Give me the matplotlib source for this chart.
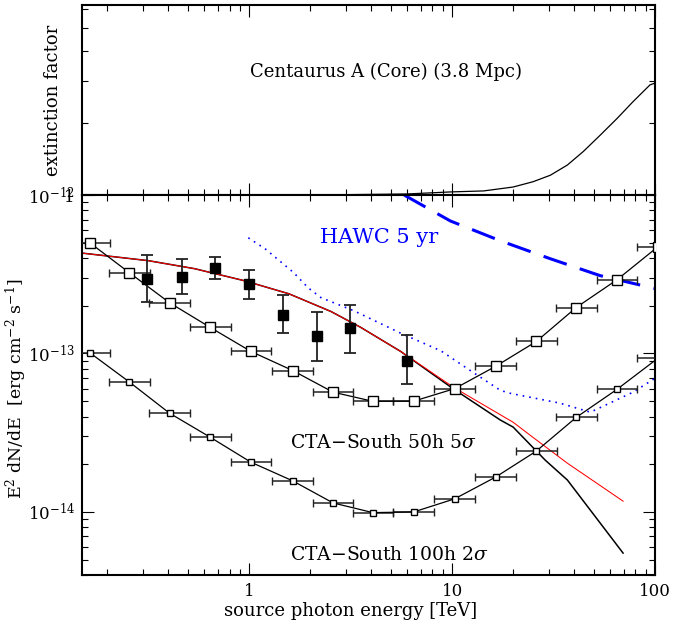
import matplotlib
matplotlib.use("Agg")
import numpy as np
import matplotlib.pyplot as plt
from matplotlib import ticker

plt.rcParams["font.family"] = ["DejaVu Serif"]
plt.rcParams["mathtext.fontset"] = "dejavuserif"

# extinction factor (top panel)
ext_energy = [0.15, 1.0, 3.0, 6.0, 9.8, 14.3, 20, 25.1, 30.5, 37, 44.3, 53.7,
              65, 78, 94.5, 100]
ext_factor = [1.0, 1.0, 1.003, 1.01, 1.03, 1.04, 1.08, 1.137, 1.21, 1.335, 1.52,
              1.78, 2.09, 2.46, 2.89, 2.94]

# CTA-South sensitivities (bin centres, TeV)
cta_energy = [0.164, 0.257, 0.405, 0.643, 1.02, 1.64, 2.59, 4.07, 6.47,
              10.3, 16.4, 26.0, 40.9, 65.0, 103]
cta50_flux = [4.99e-13, 3.23e-13, 2.09e-13, 1.46e-13, 1.03e-13, 7.8e-14, 5.7e-14,
              4.99e-14, 5.0e-14, 6.0e-14, 8.3e-14, 1.19e-13, 1.95e-13, 2.92e-13, 4.7e-13]
cta100_flux = [1.01e-13, 6.6e-14, 4.2e-14, 2.96e-14, 2.06e-14, 1.57e-14, 1.14e-14,
               9.9e-15, 1.0e-14, 1.21e-14, 1.66e-14, 2.42e-14, 3.95e-14, 5.94e-14, 9.3e-14]
BIN_HALF_DEX = 0.1

# measured points
hess_energy = [0.315, 0.469, 0.68, 1.0, 1.47, 2.16, 3.13, 5.97]
hess_flux = [2.96e-13, 3.05e-13, 3.47e-13, 2.75e-13, 1.76e-13, 1.28e-13, 1.44e-13, 9.0e-14]
hess_hi = [4.2e-13, 3.96e-13, 4.07e-13, 3.37e-13, 2.35e-13, 1.84e-13, 2.03e-13, 1.30e-13]
hess_lo = [2.12e-13, 2.38e-13, 2.96e-13, 2.22e-13, 1.35e-13, 8.9e-14, 1.01e-13, 6.4e-14]

# model, intrinsic (red) and with extinction (black)
model_energy = [0.15, 0.319, 0.537, 0.945, 1.57, 2.53, 3.55, 5.58, 10.2, 20, 25, 37, 69.6]
model_flux = [4.3e-13, 3.85e-13, 3.43e-13, 2.88e-13, 2.38e-13, 1.84e-13, 1.46e-13,
              1.03e-13, 6.1e-14, 3.68e-14, 2.96e-14, 2.03e-14, 1.17e-14]
absorbed_energy = [0.15, 0.319, 0.537, 0.945, 1.57, 2.53, 3.55, 5.58, 10.2,
                   17.3, 20, 28.8, 37, 69.6]
absorbed_flux = [4.3e-13, 3.85e-13, 3.43e-13, 2.88e-13, 2.38e-13, 1.84e-13, 1.46e-13,
                 1.03e-13, 5.95e-14, 3.8e-14, 3.43e-14, 2.12e-14, 1.59e-14, 5.5e-15]

# dotted blue sensitivity
dot_energy = [0.99, 1.2, 1.66, 1.95, 2.26, 3.28, 5.6, 8.8, 12.3, 17.3, 19.4,
              34, 48, 54, 78, 100]
dot_flux = [5.37e-13, 4.57e-13, 3.23e-13, 2.6e-13, 2.25e-13, 1.86e-13, 1.34e-13,
            1.04e-13, 7.8e-14, 5.85e-14, 5.6e-14, 4.86e-14, 4.26e-14, 4.57e-14,
            5.7e-14, 6.97e-14]

# HAWC 5 yr
hawc_energy = [5.8, 9.8, 17.3, 30.5, 53.6, 100]
hawc_flux = [1.0e-12, 6.86e-13, 5.14e-13, 3.96e-13, 3.1e-13, 2.57e-13]


def style_axis(ax):
    ax.tick_params(which="both", direction="in", top=True, right=True, width=0.8)
    ax.tick_params(which="major", length=8.5, labelsize=12, pad=5)
    ax.tick_params(which="minor", length=4.5)
    for sp in ax.spines.values():
        sp.set_linewidth(1.5)


def main():
    fig = plt.figure(figsize=(6.95, 6.3), dpi=100)
    W, H = 695, 630
    ax_top = fig.add_axes([82 / W, 435 / H, 573 / W, 190 / H])
    ax = fig.add_axes([82 / W, 55 / H, 573 / W, 380 / H], sharex=ax_top)

    # top panel
    ax_top.plot(ext_energy, ext_factor, color="black", lw=0.9)
    ax_top.set_xscale("log")
    ax_top.set_yscale("log")
    ax_top.set_xlim(0.15, 100)
    ax_top.set_ylim(1, 6.24)
    ax_top.yaxis.set_major_locator(ticker.FixedLocator([1]))
    ax_top.yaxis.set_major_formatter(ticker.FixedFormatter(["1"]))
    ax_top.yaxis.set_minor_locator(ticker.FixedLocator([2, 3, 4, 5, 6]))
    ax_top.yaxis.set_minor_formatter(ticker.NullFormatter())
    style_axis(ax_top)
    ax_top.tick_params(axis="x", which="both", labelbottom=False)
    ax_top.set_ylabel("extinction factor", fontsize=13)
    ax_top.yaxis.set_label_coords(-0.035, 0.5)
    ax_top.text(0.531, 0.647, "Centaurus A (Core) (3.8 Mpc)", transform=ax_top.transAxes,
                ha="center", va="center", fontsize=13)

    # bottom panel
    e = np.array(cta_energy)
    xerr = [e - e / 10 ** BIN_HALF_DEX, e * 10 ** BIN_HALF_DEX - e]
    ax.errorbar(cta_energy, cta50_flux, xerr=xerr, color="black", lw=0.9,
                ecolor="#222222", elinewidth=1.1, capsize=3, capthick=1.1,
                marker="s", ms=7, mfc="white", mec="black", mew=1.0, zorder=3)
    ax.errorbar(cta_energy, cta100_flux, xerr=xerr, color="black", lw=0.9,
                ecolor="#222222", elinewidth=1.1, capsize=3, capthick=1.1,
                marker="s", ms=4.5, mfc="white", mec="black", mew=1.0, zorder=3)

    f = np.array(hess_flux)
    yerr = [f - np.array(hess_lo), np.array(hess_hi) - f]
    ax.errorbar(hess_energy, hess_flux, yerr=yerr, fmt="s", color="black", ms=7.5,
                ecolor="#222222", elinewidth=1.3, capsize=4, capthick=1.3, zorder=4)

    ax.plot(absorbed_energy, absorbed_flux, color="black", lw=1.1, zorder=2)
    ax.plot(model_energy, model_flux, color="red", lw=0.75, zorder=2.5)

    ax.plot(dot_energy, dot_flux, color="blue", lw=1.2, ls=(0, (1, 3)), zorder=2)
    ax.plot(hawc_energy, hawc_flux, color="blue", lw=2.2, ls=(0, (8, 4.5)), zorder=2)

    ax.set_xscale("log")
    ax.set_yscale("log")
    ax.set_xlim(0.15, 100)
    ax.set_ylim(4e-15, 1e-12)
    ax.xaxis.set_major_locator(ticker.FixedLocator([1, 10, 100]))
    ax.xaxis.set_major_formatter(ticker.FuncFormatter(lambda v, _: f"{v:g}"))
    ax.xaxis.set_minor_locator(ticker.LogLocator(base=10, subs=np.arange(2, 10)))
    ax.xaxis.set_minor_formatter(ticker.NullFormatter())
    ax.yaxis.set_major_locator(ticker.LogLocator(base=10, numticks=10))
    ax.yaxis.set_minor_locator(ticker.LogLocator(base=10, subs=np.arange(2, 10), numticks=10))
    ax.yaxis.set_minor_formatter(ticker.NullFormatter())
    style_axis(ax)
    ax.tick_params(axis="x", which="major", pad=6)

    ax.set_xlabel("source photon energy [TeV]", fontsize=13)
    ax.xaxis.set_label_coords(0.468, -0.07)
    ax.set_ylabel(r"E$^2$ dN/dE  [erg cm$^{-2}$ s$^{-1}$]", fontsize=12.5)
    ax.yaxis.set_label_coords(-0.092, 0.49)

    ax.text(0.415, 0.889, "HAWC 5 yr", transform=ax.transAxes, color="blue",
            ha="left", va="center", fontsize=15)
    ax.text(0.363, 0.347, r"CTA$-$South 50h 5$\sigma$", transform=ax.transAxes,
            ha="left", va="center", fontsize=13.5)
    ax.text(0.363, 0.053, r"CTA$-$South 100h 2$\sigma$", transform=ax.transAxes,
            ha="left", va="center", fontsize=13.5)

    fig.savefig("out.png", dpi=100)


if __name__ == "__main__":
    main()
